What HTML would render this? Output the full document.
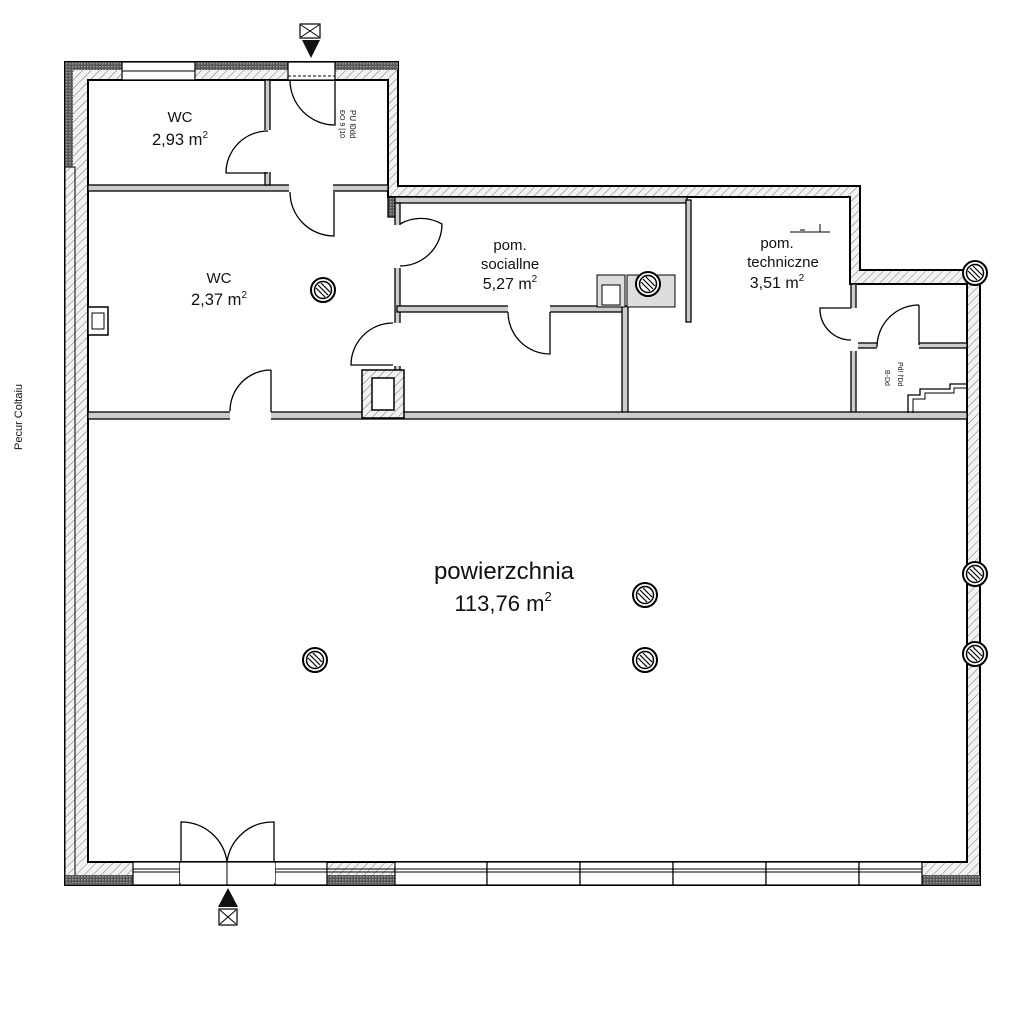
<!DOCTYPE html>
<html><head><meta charset="utf-8"><style>
html,body{margin:0;padding:0;background:#fff;width:1024px;height:1024px;overflow:hidden}
svg{display:block}
text{font-family:"Liberation Sans",sans-serif;fill:#111}
</style></head><body>
<svg width="1024" height="1024" viewBox="0 0 1024 1024" xmlns="http://www.w3.org/2000/svg">
<defs>
<pattern id="h" width="6" height="6" patternUnits="userSpaceOnUse" patternTransform="rotate(45)">
<rect width="6" height="6" fill="#f2f2f2"/><line x1="0" y1="0" x2="0" y2="6" stroke="#777" stroke-width="1"/></pattern>
<pattern id="d" width="3" height="3" patternUnits="userSpaceOnUse"><rect width="3" height="3" fill="#555"/><rect width="1.5" height="1.5" fill="#999"/></pattern>
<g id="col"><circle r="12" fill="#fff" stroke="#000" stroke-width="2"/><circle r="8.5" fill="#fff" stroke="#000" stroke-width="1.5"/>
<line x1="-5" y1="-5" x2="5" y2="5" stroke="#000" stroke-width="1.2"/><line x1="-7" y1="-2" x2="2" y2="7" stroke="#000" stroke-width="1.2"/><line x1="-2" y1="-7" x2="7" y2="2" stroke="#000" stroke-width="1.2"/></g>
</defs>

<path fill="url(#h)" stroke="#000" stroke-width="2" fill-rule="evenodd"
d="M65,62 L398,62 L398,186 L860,186 L860,270 L980,270 L980,885 L65,885 Z
M88,80 L388,80 L388,197 L850,197 L850,284 L967,284 L967,862 L88,862 Z"/>
<rect x="65" y="62" width="8" height="105" fill="url(#d)"/>
<rect x="73" y="62" width="50" height="8" fill="url(#d)"/>
<rect x="195" y="62" width="93" height="8" fill="url(#d)"/>
<rect x="335" y="62" width="63" height="8" fill="url(#d)"/>
<rect x="65" y="167" width="10" height="718" fill="url(#h)" stroke="#000" stroke-width="1"/>
<rect x="65" y="875" width="70" height="10" fill="url(#d)"/>
<rect x="327" y="875" width="68" height="10" fill="url(#d)"/>
<rect x="922" y="875" width="58" height="10" fill="url(#d)"/>
<rect x="122" y="62" width="73" height="18" fill="#fff" stroke="#000" stroke-width="1.2"/>
<line x1="122" y1="71" x2="195" y2="71" stroke="#000"/>
<rect x="288" y="62" width="47" height="18" fill="#fff" stroke="#000" stroke-width="1.2"/>
<line x1="288" y1="76" x2="335" y2="76" stroke="#000" stroke-dasharray="3,2"/>
<g stroke="#000" stroke-width="1.2" fill="#fff">
<rect x="133" y="862" width="47" height="23"/><rect x="180" y="862" width="95" height="23"/><rect x="275" y="862" width="52" height="23"/>
<rect x="395" y="862" width="92" height="23"/><rect x="487" y="862" width="93" height="23"/><rect x="580" y="862" width="93" height="23"/>
<rect x="673" y="862" width="93" height="23"/><rect x="766" y="862" width="93" height="23"/><rect x="859" y="862" width="63" height="23"/>
</g>
<g stroke="#000" stroke-width="1">
<line x1="133" y1="869" x2="922" y2="869"/><line x1="133" y1="872" x2="922" y2="872"/>
</g>
<rect x="180" y="863" width="95" height="20" fill="#fff"/>
<line x1="180" y1="885" x2="275" y2="885" stroke="#000"/>
<line x1="227" y1="862" x2="227" y2="885" stroke="#000"/>

<g fill="#ccc" stroke="#000" stroke-width="1.3">
<rect x="88" y="185" width="300" height="6"/>
<rect x="265" y="80" width="5" height="105"/>
<rect x="388" y="197" width="9" height="20" fill="url(#d)"/>
<rect x="395" y="197" width="292" height="6"/>
<rect x="395" y="203" width="5" height="210"/>
<rect x="397" y="306" width="228" height="6"/>
<rect x="622" y="306" width="6" height="107"/>
<rect x="686" y="200" width="5" height="122"/>
<rect x="851" y="284" width="5" height="129"/>
<rect x="853" y="343" width="114" height="5"/>
<rect x="88" y="412" width="879" height="7"/>
</g>
<path d="M908,413 L908,395 L920,395 L920,389 L950,389 L950,384 L967,384" fill="none" stroke="#000" stroke-width="1.3"/>
<path d="M913,413 L913,399 L925,399 L925,393 L954,393 L954,388 L967,388" fill="none" stroke="#000" stroke-width="1"/>
<rect x="362" y="370" width="42" height="48" fill="url(#h)" stroke="#000" stroke-width="1.5"/>
<rect x="372" y="378" width="22" height="32" fill="#fff" stroke="#000" stroke-width="1.5"/>
<rect x="88" y="307" width="20" height="28" fill="#fff" stroke="#000" stroke-width="1.5"/>
<rect x="92" y="313" width="12" height="16" fill="#fff" stroke="#000" stroke-width="1"/>
<rect x="597" y="275" width="28" height="32" fill="#ddd" stroke="#000" stroke-width="1"/>
<rect x="602" y="285" width="18" height="20" fill="#fff" stroke="#000" stroke-width="1"/>
<rect x="627" y="275" width="48" height="32" fill="#ddd" stroke="#000" stroke-width="1"/>

<g fill="#fff">
<rect x="289" y="184" width="44" height="9"/>
<rect x="264" y="130" width="8" height="42"/>
<rect x="393" y="225" width="9" height="43"/>
<rect x="393" y="323" width="9" height="43"/>
<rect x="230" y="410" width="41" height="10"/>
<rect x="508" y="304" width="42" height="10"/>
<rect x="849" y="308" width="9" height="43"/>
<rect x="877" y="341" width="42" height="9"/>
</g>
<g fill="none" stroke="#000" stroke-width="1.3">
<path d="M290,80 A45,45 0 0 0 335,125 L335,80"/>
<path d="M290,192 A44,44 0 0 0 334,236 L334,192"/>
<path d="M268,131 A42,42 0 0 0 226,173 L268,173"/>
<path d="M400,224 A42,42 0 0 1 442,224 A42,42 0 0 1 400,266"/>
<path d="M393,323 A42,42 0 0 0 351,365 L393,365"/>
<path d="M271,370 A41,41 0 0 0 230,411 M271,370 L271,412"/>
<path d="M508,312 A42,42 0 0 0 550,354 L550,312"/>
<path d="M851,308 L820,308 A31,31 0 0 0 851,340"/>
<path d="M919,305 A42,42 0 0 0 877,347 M919,305 L919,345"/>
<path d="M181,862 L181,822 A46,46 0 0 1 227,862 A46,46 0 0 1 274,822 L274,862"/>
</g>

<use href="#col" x="323" y="290"/>
<use href="#col" x="648" y="284"/>
<use href="#col" x="645" y="595"/>
<use href="#col" x="645" y="660"/>
<use href="#col" x="315" y="660"/>
<use href="#col" x="975" y="273"/>
<use href="#col" x="975" y="574"/>
<use href="#col" x="975" y="654"/>

<rect x="300" y="24" width="20" height="14" fill="#fff" stroke="#000" stroke-width="1.2"/>
<path d="M301,25 L319,37 M319,25 L301,37" stroke="#000"/>
<polygon points="302,40 320,40 311,58" fill="#111"/>
<polygon points="218,907 238,907 228,888" fill="#111"/>
<rect x="219" y="909" width="18" height="16" fill="#fff" stroke="#000" stroke-width="1.2"/>
<path d="M220,910 L236,924 M236,910 L220,924" stroke="#000"/>

<g text-anchor="middle">
<text x="180" y="122" font-size="15">WC</text>
<text x="180" y="145" font-size="16.5">2,93 m<tspan font-size="10" dy="-7">2</tspan></text>
<text x="219" y="283" font-size="15">WC</text>
<text x="219" y="305" font-size="16.5">2,37 m<tspan font-size="10" dy="-7">2</tspan></text>
<text x="510" y="250" font-size="15">pom.</text>
<text x="510" y="269" font-size="15">sociallne</text>
<text x="510" y="289" font-size="16">5,27 m<tspan font-size="10" dy="-7">2</tspan></text>
<text x="777" y="248" font-size="15">pom.</text>
<text x="783" y="267" font-size="15">techniczne</text>
<text x="777" y="288" font-size="16">3,51 m<tspan font-size="10" dy="-7">2</tspan></text>
<text x="504" y="579" font-size="24">powierzchnia</text>
<text x="503" y="611" font-size="22">113,76 m<tspan font-size="13" dy="-10">2</tspan></text>
</g>
<text transform="translate(22,450) rotate(-90)" font-size="11">Pecur Coltaiu</text>
<text transform="translate(350,110) rotate(90)" font-size="8">PU l0dd</text>
<text transform="translate(340,110) rotate(90)" font-size="7">ÐO 9 [10</text>
<text transform="translate(898,362) rotate(90)" font-size="7">Pd! l'Dd</text>
<text transform="translate(885,370) rotate(90)" font-size="7">B-Dd</text>
<path d="M790,232 L830,232 M820,224 L820,232 M800,230 L805,230" stroke="#000" stroke-width="1" fill="none"/>
</svg>
</body></html>
